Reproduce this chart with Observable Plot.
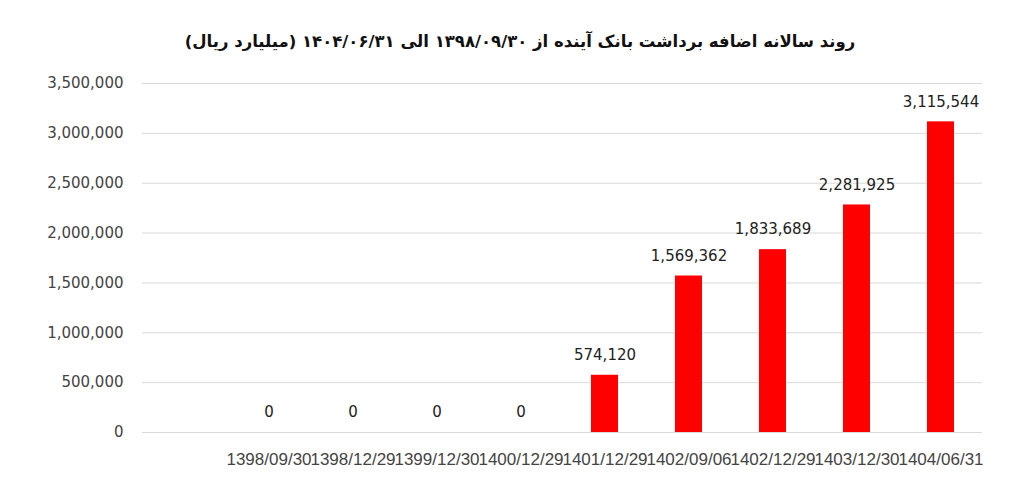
<!DOCTYPE html>
<html>
<head>
<meta charset="utf-8">
<script src="https://cdn.jsdelivr.net/npm/d3@7"></script>
<script src="https://cdn.jsdelivr.net/npm/@observablehq/plot@0.6"></script>
<style>
  html, body { margin: 0; padding: 0; background: #fff; }
  #title {
    height: 70px; width: 1024px; box-sizing: border-box;
    direction: rtl; text-align: center;
    font-family: "DejaVu Sans", sans-serif; font-weight: bold; font-size: 16.5px;
    color: #111; padding-top: 32px; padding-left: 16px;
  }
</style>
</head>
<body>
<div id="title">روند سالانه اضافه برداشت بانک آینده از ۱۳۹۸/۰۹/۳۰ الی ۱۴۰۴/۰۶/۳۱ (میلیارد ریال)</div>
<div id="chart"></div>
<script>
const categories = ["1398/09/30","1398/12/29","1399/12/30","1400/12/29","1401/12/29","1402/09/06","1402/12/29","1403/12/30","1404/06/31"];
const values = [0, 0, 0, 0, 574120, 1569362, 1833689, 2281925, 3115544];
const yTicks = [0, 500000, 1000000, 1500000, 2000000, 2500000, 3000000, 3500000];

const data = categories.map((c, i) => ({date: c, value: values[i]}));
const fmt = d3.format(",");

const chart = Plot.plot({
  width: 1024,
  height: 432,
  marginLeft: 142,
  marginRight: 42,
  marginTop: 13,
  marginBottom: 70,
  style: {fontFamily: "DejaVu Sans, sans-serif", background: "#fff"},
  x: {domain: categories, range: [226, 982], paddingInner: 0.68, paddingOuter: 0.34, label: null},
  y: {domain: [0, 3500000], label: null},
  marks: [
    Plot.gridY(yTicks, {stroke: "#d9d9d9", strokeOpacity: 1, strokeWidth: 1}),
    Plot.axisY(yTicks, {tickSize: 0, tickPadding: 19, tickFormat: fmt, fontSize: 15, fill: "#444", label: null}),
    Plot.axisX({tickSize: 0, tickPadding: 20, fontSize: 17, fill: "#444", label: null, fontFamily: "Liberation Sans, sans-serif"}),
    Plot.barY(data, {x: "date", y: "value", fill: "#ff0000"}),
    Plot.text(data, {x: "date", y: "value", text: d => fmt(d.value), dy: -20, fontSize: 15, fill: "#222"})
  ]
});
document.getElementById("chart").appendChild(chart);
</script>
</body>
</html>
